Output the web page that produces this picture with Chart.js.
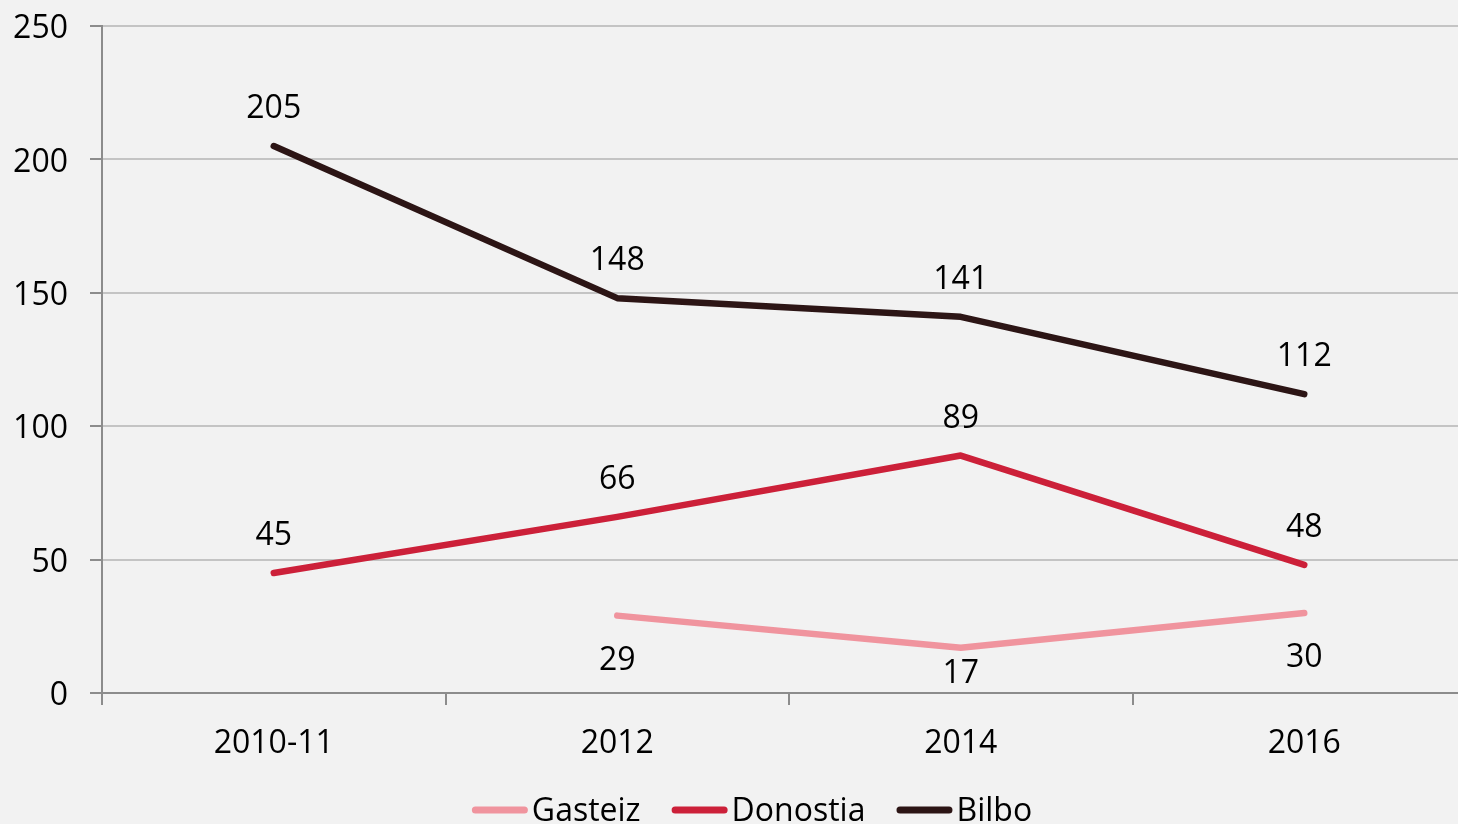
<!DOCTYPE html>
<html>
<head>
<meta charset="utf-8">
<script src="https://cdn.jsdelivr.net/npm/chart.js@4"></script>
<style>
  html, body { margin: 0; padding: 0; background: #f2f2f2; overflow: hidden; }
  #contenedor { width: 1504px; height: 824px; }
</style>
</head>
<body>
<div id="contenedor"><canvas id="graficoLineas" width="1504" height="824"></canvas></div>
<script>
const etiquetas = ["2010-11", "2012", "2014", "2016"]
const gasteiz = [null, 29, 17, 30]
const donostia = [45, 66, 89, 48]
const bilbo = [205, 148, 141, 112]
const ticksY = [0, 50, 100, 150, 200, 250]

const fuente = "'Open Sans', 'Noto Sans', sans-serif"
const grisEje = "#8c8c8c"

// etiquetas de valor encima / debajo de cada punto
const etiquetasValores = {
  id: "etiquetasValores",
  afterDatasetsDraw(chart) {
    const ctx = chart.ctx
    ctx.save()
    ctx.font = "32px " + fuente
    ctx.fillStyle = "#000"
    ctx.textAlign = "center"
    ctx.textBaseline = "middle"
    chart.data.datasets.forEach((ds, i) => {
      chart.getDatasetMeta(i).data.forEach((p, j) => {
        const v = ds.data[j]
        if (v === null) return
        let y = p.y + ds.desplazamiento
        y = Math.min(y, chart.chartArea.bottom - 19)
        ctx.fillText(String(v), p.x, y)
      })
    })
    ctx.restore()
  }
}

// leyenda abajo, centrada
const leyenda = {
  id: "leyenda",
  afterDraw(chart) {
    const ctx = chart.ctx
    ctx.save()
    ctx.font = "32px " + fuente
    const items = chart.data.datasets.map(ds => ({
      texto: ds.label,
      color: ds.borderColor,
      ancho: 56 + 4 + ctx.measureText(ds.label).width
    }))
    const total = items.reduce((s, it) => s + it.ancho, 0) + 31 * (items.length - 1)
    let x = chart.width / 2 - total / 2
    const y = chart.height - 12
    items.forEach(it => {
      ctx.strokeStyle = it.color
      ctx.lineWidth = 7
      ctx.lineCap = "round"
      ctx.beginPath()
      ctx.moveTo(x + 3.5, y - 2)
      ctx.lineTo(x + 52.5, y - 2)
      ctx.stroke()
      ctx.fillStyle = "#000"
      ctx.textAlign = "left"
      ctx.textBaseline = "middle"
      ctx.fillText(it.texto, x + 60, y)
      x += it.ancho + 31
    })
    ctx.restore()
  }
}

const lineas = document.getElementById("graficoLineas")

new Chart(lineas, {
  type: "line",
  data: {
    labels: etiquetas,
    datasets: [
      { label: "Gasteiz", data: gasteiz, borderColor: "#f0949e", desplazamiento: 45 },
      { label: "Donostia", data: donostia, borderColor: "#cc2039", desplazamiento: -37 },
      { label: "Bilbo", data: bilbo, borderColor: "#2c1515", desplazamiento: -37 }
    ].map(ds => Object.assign(ds, {
      borderWidth: 6.5,
      borderCapStyle: "round",
      borderJoinStyle: "round",
      pointRadius: 0,
      tension: 0,
      fill: false
    }))
  },
  options: {
    responsive: false,
    animation: false,
    layout: { padding: { top: 26, right: 28, bottom: 56, left: 0 } },
    plugins: {
      legend: { display: false },
      tooltip: { enabled: false }
    },
    scales: {
      x: {
        offset: true,
        ticks: { color: "#000", font: { family: fuente, size: 32 }, padding: 20, maxRotation: 0 },
        grid: { offset: true, drawOnChartArea: false, tickLength: 12, color: grisEje, lineWidth: 2 },
        border: { color: grisEje, width: 2 },
        afterFit: (s) => { s.height = 75; s.paddingLeft = 0; s.paddingRight = 0 }
      },
      y: {
        min: 0,
        max: 250,
        afterBuildTicks: (s) => { s.ticks = ticksY.map(v => ({ value: v })) },
        ticks: { color: "#000", font: { family: fuente, size: 32 }, padding: 22, labelOffset: 3 },
        grid: { color: "#c4c4c4", lineWidth: 2, tickLength: 12, tickColor: grisEje },
        border: { color: grisEje, width: 2 },
        afterFit: (s) => { s.width = 102; s.paddingTop = 0; s.paddingBottom = 0 }
      }
    }
  },
  plugins: [etiquetasValores, leyenda]
})
</script>
</body>
</html>
